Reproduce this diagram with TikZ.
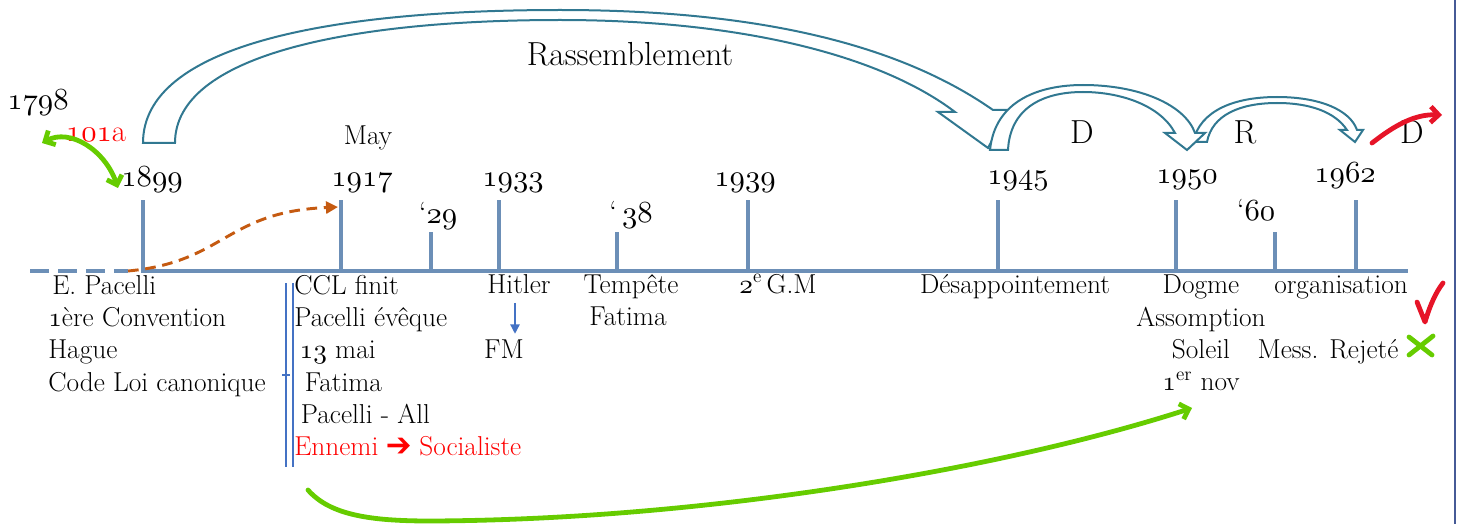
\documentclass[tikz,border=0pt]{standalone}
\usepackage{xcolor}
\usepackage{pifont}
\usepackage{tikz}
\usetikzlibrary{arrows.meta,positioning}
\DeclareFontFamily{OML}{oscm}{\skewchar\font'177}
\DeclareFontShape{OML}{oscm}{m}{it}{<->cmmi10}{}

\definecolor{tlblue}{RGB}{108,143,183}
\definecolor{arcteal}{RGB}{49,120,145}
\definecolor{dashorange}{RGB}{197,90,17}
\definecolor{inkgreen}{RGB}{102,204,0}
\definecolor{inkred}{RGB}{230,20,40}
\definecolor{markblue}{RGB}{68,114,196}
\definecolor{framecol}{RGB}{70,90,150}

\newcommand{\yr}[1]{{\usefont{OML}{oscm}{m}{it}#1}}

\begin{document}
\begin{tikzpicture}[
  x=0.75pt, y=-0.75pt,
  txt/.style={font=\fontsize{20.5}{24.2}\selectfont, inner sep=0pt},
  year/.style={font=\fontsize{23}{26}\selectfont, inner sep=0pt, anchor=base},
  big/.style={font=\fontsize{25}{28}\selectfont, inner sep=0pt, anchor=base},
  tick/.style={tlblue, line width=3pt},
  blockarr/.style={draw=arcteal, fill=white, line width=1.5pt, line join=miter},
  ink/.style={line width=3.6pt, line cap=round, line join=round},
  barb/.style={-{Straight Barb[length=6pt,width=12pt]}}
]
  \useasboundingbox (0,0) rectangle (1458,524);
  \draw[framecol, line width=0.8pt] (1455,0) -- (1455,524);

  % curved block arrows
  \draw[blockarr] (143,143) .. controls (143,45) and (330,10) .. (560,10)
    .. controls (760,10) and (900,45) .. (993,110) -- (1008,110) -- (988,148)
    -- (938,112) -- (955,112) .. controls (880,55) and (740,20) .. (560,20)
    .. controls (350,20) and (175,55) .. (175,143) -- cycle;
  \draw[blockarr] (1193,142) .. controls (1200,110) and (1235,97) .. (1277,97)
    .. controls (1320,97) and (1350,110) .. (1357,130) -- (1363,130) -- (1355,142)
    -- (1340,130) -- (1347,130) .. controls (1335,112) and (1310,103) .. (1277,103)
    .. controls (1240,103) and (1212,115) .. (1207,142) -- cycle;
  \draw[blockarr] (990,150) .. controls (995,100) and (1040,85) .. (1083,85)
    .. controls (1140,85) and (1185,105) .. (1195,133) -- (1205,133) -- (1187,150)
    -- (1165,133) -- (1175,133) .. controls (1160,105) and (1120,92) .. (1083,92)
    .. controls (1040,92) and (1010,110) .. (1008,150) -- cycle;

  % timeline
  \coordinate (tlstart) at (30,271);
  \coordinate (tldash) at (128,271);
  \coordinate (tlsolid) at (141,271);
  \coordinate (tlend) at (1408,271);
  \draw[tlblue, line width=3.6pt, dash pattern=on 14pt off 7pt] (tlstart) -- (tldash);
  \draw[tlblue, line width=3.6pt] (tlsolid) -- (tlend);
  \foreach \x/\h in {143/200, 341/200, 431/232, 499/200, 617/232,
                     748/200, 998/200, 1176/200, 1275/232, 1356/200}
    \draw[tick] (\x,271) -- (\x,\h);

  % years
  \node[year] (y1798) at (38,110) {\yr{1798}};
  \node[year, red] (y101a) at (96,142) {\yr{101}a};
  \node[year] (y1899) at (152,186) {\yr{1899}};
  \node[txt, anchor=base] (may) at (368,145) {May};
  \node[year] (y1917) at (362,186) {\yr{1917}};
  \node[year] (y29) at (438,223) {\textquoteleft\yr{29}};
  \node[year] (y1933) at (513,186) {\yr{1933}};
  \node[year] (y38) at (631,222) {\textquoteleft\,\yr{38}};
  \node[year] (y1939) at (745,186) {\yr{1939}};
  \node[year] (y1945) at (1018,184) {\yr{1945}};
  \node[year] (y1950) at (1187,183) {\yr{1950}};
  \node[year] (y60) at (1256,220) {\textquoteleft\yr{60}};
  \node[year] (y1962) at (1345,182) {\yr{1962}};

  \node[big] (rass) at (630,66) {Rassemblement};
  \node[big] (lbld) at (1082,143) {D};
  \node[big] (lblr) at (1245,143) {R};
  \node[big] (lbldd) at (1412,143) {D};

  % events under the line
  \node[txt, anchor=north west, align=left] (ev1899) at (48,275)
    {\hspace*{3pt}E. Pacelli\\ \yr{1}ère Convention\\ Hague\\ Code Loi canonique};
  \node[txt, anchor=north west, align=left] (ev1917) at (294,275)
    {CCL finit\\ Pacelli évêque\\ \hspace*{4pt}\yr{13} mai\\ \hspace*{8pt}Fatima\\
     \hspace*{5pt}Pacelli - All\\ \textcolor{red}{Ennemi \ding{212} Socialiste}};
  \node[txt, anchor=base] (hitler) at (519,293) {Hitler};
  \node[txt, anchor=base] (fm) at (504,358) {FM};
  \node[txt, anchor=base] (tempete) at (631,293) {Tempête};
  \node[txt, anchor=base] (fatima) at (628,325) {Fatima};
  \node[txt, anchor=base] (gm) at (778,293) {\yr{2}\textsuperscript{e}\,G.M};
  \node[txt, anchor=base] (desap) at (1015,293) {Désappointement};
  \node[txt, anchor=north, align=center] (ev1950) at (1201,275)
    {Dogme\\ Assomption\\ Soleil\\ \yr{1}\textsuperscript{er} nov};
  \node[txt, anchor=base] (orga) at (1341,293) {organisation};
  \node[txt, anchor=base] (rejete) at (1328,358) {Mess. Rejeté};

  % bracket beside 1917
  \draw[markblue, line width=0.8pt] (286,283) -- (286,467);
  \draw[markblue, line width=0.8pt] (293,283) -- (293,467);
  \draw[markblue, line width=0.8pt] (282,375) -- (290,375);

  % Hitler -> FM
  \coordinate (fmx) at (515,0);
  \draw[markblue, line width=1pt, -{Triangle[length=7pt,width=7pt]}]
    ([yshift=-7pt]hitler.south -| fmx) -- ([yshift=4pt]fm.north -| fmx);

  % ink marks
  \coordinate (g1a) at (42,143);
  \coordinate (g1b) at (118,188);
  \draw[ink, inkgreen, {Straight Barb[length=6pt,width=12pt]}-{Straight Barb[length=6pt,width=12pt]}]
    (g1a) .. controls (70,128) and (105,150) .. (g1b);

  \coordinate (o1a) at (128,271);
  \coordinate (o1b) at (338,207);
  \draw[dashorange, line width=2.2pt, dash pattern=on 8pt off 5pt,
        -{Triangle[length=9pt,width=9pt]}]
    (o1a) .. controls (225,262) and (225,212) .. (o1b);

  \coordinate (g2a) at (308,490);
  \coordinate (g2b) at (1192,408);
  \draw[ink, inkgreen, barb] (g2a) .. controls (330,515) and (370,521) .. (430,521)
    .. controls (700,520) and (1000,470) .. (g2b);

  \coordinate (r1a) at (1372,143);
  \coordinate (r1b) at (1442,115);
  \draw[ink, inkred, barb] (r1a) .. controls (1395,125) and (1415,114) .. (r1b);

  \draw[ink, inkred] (1417,302) -- (1425,322) .. controls (1430,305) and (1436,292) .. (1443,283);
  \draw[ink, inkgreen] (1409,337) -- (1432,355) (1409,355) -- (1433,336);
\end{tikzpicture}
\end{document}
